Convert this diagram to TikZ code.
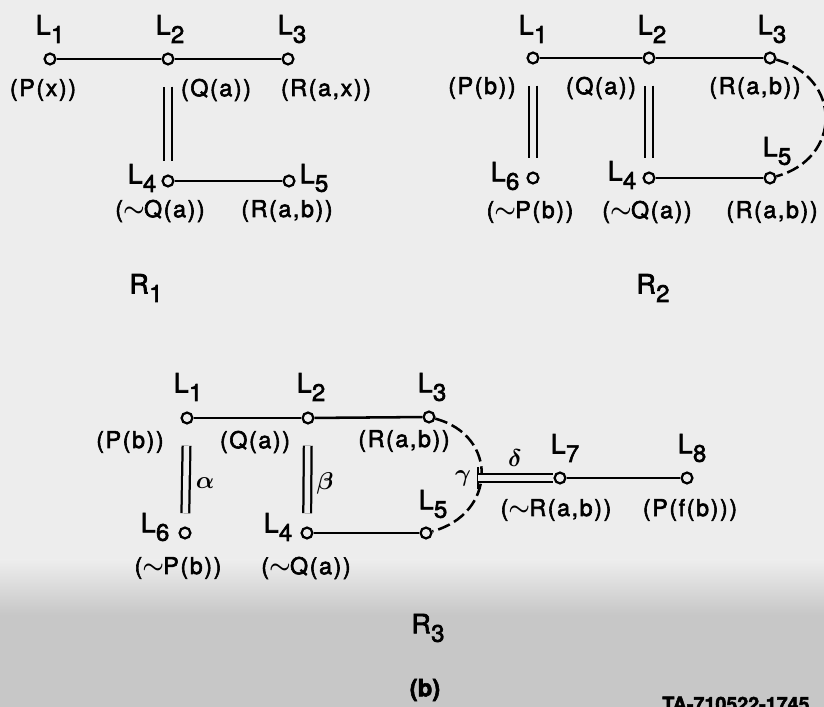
\documentclass[tikz,border=0pt]{standalone}
\usepackage{amsmath}
\usepackage{fontspec}
\setmainfont{TeX Gyre Heros}[FakeBold=2.5]
\newfontfamily\litfont{TeX Gyre Heros}[LetterSpace=7, FakeBold=2.5]
\usetikzlibrary{positioning}

\newcommand\Sub[2]{#1\kern0.3pt\raisebox{-6pt}{\fontsize{17}{17}\selectfont #2}}
\newcommand\Neg{\raisebox{0.5pt}{$\boldsymbol{\sim}$}\kern-0.5pt}

\begin{document}
\begin{tikzpicture}[
    x=0.025cm, y=-0.025cm,
    lit/.style={circle, draw, line width=1.6pt, inner sep=0pt, minimum size=0.27cm},
    link/.style={line width=1.8pt},
    resolve/.style={line width=1.6pt, double=paper, double distance=3.9pt,
                    shorten <=0.53cm, shorten >=0.33cm},
    arc/.style={line width=1.8pt, dash pattern=on 9pt off 3.5pt},
    lname/.style={font=\fontsize{19}{19}\selectfont, inner sep=0pt},
    term/.style={font=\litfont\fontsize{16.5}{18}\selectfont, inner sep=0pt},
    greek/.style={font=\fontsize{17}{17}\selectfont, inner sep=0pt}
]
\colorlet{paper}{black!7}

% paper
\fill[paper] (0,0) rectangle (824,560);
\shade[top color=paper, bottom color=black!22] (0,560) rectangle (824,615);
\fill[black!22] (0,615) rectangle (824,707);
\useasboundingbox (0,0) rectangle (824,707);

% ---------------- R1 ----------------
\node[lit] (a1) at (50,59) {};
\node[lit] (a2) at (168,59) {};
\node[lit] (a3) at (288,59) {};
\node[lit] (a4) at (168,181) {};
\node[lit] (a5) at (289,181) {};

\node[lname] at (50,29) {\Sub{L}{1}};
\node[lname] at (170,29) {\Sub{L}{2}};
\node[lname] at (292,29) {\Sub{L}{3}};
\node[lname] at (142,178) {\Sub{L}{4}};
\node[lname] at (314,178) {\Sub{L}{5}};

\node[term] at (43,90) {(P(x))};
\node[term] at (216,90) {(Q(a))};
\node[term] at (326,90) {(R(a,x))};
\node[term] at (160,211) {(\Neg Q(a))};
\node[term] at (287,211) {(R(a,b))};

\draw[link] (a1) -- (a2);
\draw[link] (a2) -- (a3);
\draw[link] (a4) -- (a5);
\draw[resolve] (a2) -- (a4);

\node[lname] (r1) at (146,288) {\Sub{R}{1}};

% ---------------- R2 ----------------
\node[lit] (b1) at (533,58) {};
\node[lit] (b2) at (649,58) {};
\node[lit] (b3) at (770,58) {};
\node[lit] (b6) at (533,178) {};
\node[lit] (b4) at (649,178) {};
\node[lit] (b5) at (770,178) {};

\node[lname] at (533,29) {\Sub{L}{1}};
\node[lname] at (652,29) {\Sub{L}{2}};
\node[lname] at (772,29) {\Sub{L}{3}};
\node[lname] at (505,176) {\Sub{L}{6}};
\node[lname] at (622,175) {\Sub{L}{4}};
\node[lname] at (777,151) {\Sub{L}{5}};

\node[term] at (482,88) {(P(b))};
\node[term] at (601,88) {(Q(a))};
\node[term] at (755,88) {(R(a,b))};
\node[term] at (530,212) {(\Neg P(b))};
\node[term] at (647,212) {(\Neg Q(a))};
\node[term] at (772,212) {(R(a,b))};

\draw[link] (b1) -- (b2);
\draw[link] (b2) -- (b3);
\draw[link] (b4) -- (b5);
\draw[resolve] (b1) -- (b6);
\draw[resolve] (b2) -- (b4);
\draw[arc] (b3) to[out=-15, in=15, looseness=1.5] (b5);

\node[lname] (r2) at (653,288) {\Sub{R}{2}};

% ---------------- R3 ----------------
\node[lit] (c1) at (187,418) {};
\node[lit] (c2) at (308,418) {};
\node[lit] (c3) at (429,417) {};
\node[lit] (c6) at (185,533) {};
\node[lit] (c4) at (307,533) {};
\node[lit] (c5) at (426,533) {};
\node[lit] (c7) at (560,478) {};
\node[lit] (c8) at (687,478) {};

\node[lname] at (188,387) {\Sub{L}{1}};
\node[lname] at (311,387) {\Sub{L}{2}};
\node[lname] at (432,387) {\Sub{L}{3}};
\node[lname] at (155,527) {\Sub{L}{6}};
\node[lname] at (278,527) {\Sub{L}{4}};
\node[lname] at (433,504) {\Sub{L}{5}};
\node[lname] at (565,448) {\Sub{L}{7}};
\node[lname] at (692,448) {\Sub{L}{8}};

\node[term] at (130,442) {(P(b))};
\node[term] at (255,442) {(Q(a))};
\node[term] at (404,441) {(R(a,b))};
\node[term] at (178,568) {(\Neg P(b))};
\node[term] at (306,568) {(\Neg Q(a))};
\node[term] at (556,510) {(\Neg R(a,b))};
\node[term] at (690,510) {(P(f(b)))};

\node[greek] at (205,483) {$\boldsymbol{\alpha}$};
\node[greek] at (325,483) {$\boldsymbol{\beta}$};
\node[greek] at (463,478) {$\boldsymbol{\gamma}$};
\node[greek] at (515,458) {$\boldsymbol{\delta}$};

\draw[link] (c1) -- (c2);
\draw[link] (c2) -- (c3);
\draw[link] (c4) -- (c5);
\draw[link] (c7) -- (c8);
\draw[resolve] (c1) -- (c6);
\draw[resolve] (c2) -- (c4);
\draw[arc] (c3) to[out=-15, in=15, looseness=1.5] (c5);

% gamma-delta link
\coordinate (gtop) at (478,467);
\coordinate (gbot) at (478,489);
\coordinate (gbar) at (478,478);
\draw[link] (gtop) -- (gbot);
\draw[resolve, shorten <=0pt, shorten >=0pt] (gbar) -- (c7);

\node[lname] (r3) at (428,628) {\Sub{R}{3}};
\node[font=\fontsize{17}{17}\selectfont\bfseries, inner sep=0pt] (fig) at (425,690) {(b)};
\node[font=\fontsize{14}{14}\selectfont\bfseries, anchor=west, inner sep=0pt] (tag) at (662,704) {TA-710522-1745};

\end{tikzpicture}
\end{document}
